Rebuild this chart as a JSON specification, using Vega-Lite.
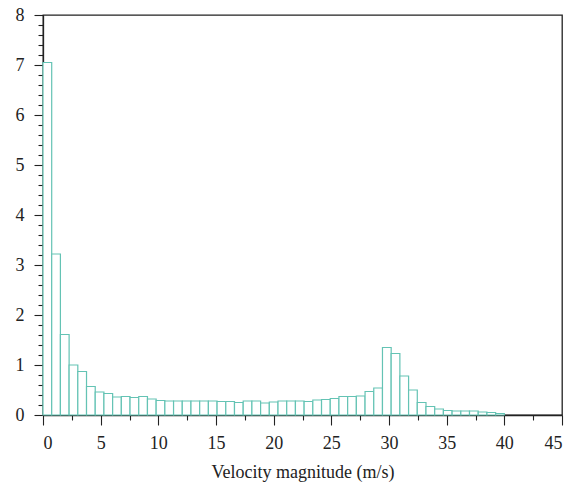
{
  "$schema": "https://vega.github.io/schema/vega-lite/v6.json",
  "width": 519,
  "height": 400,
  "autosize": {"type": "none"},
  "padding": {"left": 43, "top": 15, "right": 22, "bottom": 72},
  "background": "white",
  "config": {
    "font": "Liberation Serif",
    "view": {"stroke": "#222", "strokeWidth": 1.3},
    "axis": {
      "grid": false,
      "domainColor": "#222",
      "domainWidth": 1.3,
      "tickColor": "#222",
      "tickWidth": 1.1,
      "labelFont": "Liberation Serif",
      "labelFontSize": 18,
      "labelColor": "#222",
      "titleFont": "Liberation Serif",
      "titleFontSize": 18,
      "titleFontWeight": "normal",
      "titleColor": "#222",
      "labelOverlap": false
    }
  },
  "data": {
    "values": [
      {"lo": 0.0, "hi": 0.7547, "density": 7.05},
      {"lo": 0.7547, "hi": 1.5094, "density": 3.22},
      {"lo": 1.5094, "hi": 2.2642, "density": 1.61},
      {"lo": 2.2642, "hi": 3.0189, "density": 1.0},
      {"lo": 3.0189, "hi": 3.7736, "density": 0.87},
      {"lo": 3.7736, "hi": 4.5283, "density": 0.57},
      {"lo": 4.5283, "hi": 5.283, "density": 0.46},
      {"lo": 5.283, "hi": 6.0377, "density": 0.43},
      {"lo": 6.0377, "hi": 6.7925, "density": 0.36},
      {"lo": 6.7925, "hi": 7.5472, "density": 0.37},
      {"lo": 7.5472, "hi": 8.3019, "density": 0.35},
      {"lo": 8.3019, "hi": 9.0566, "density": 0.37},
      {"lo": 9.0566, "hi": 9.8113, "density": 0.32},
      {"lo": 9.8113, "hi": 10.566, "density": 0.29},
      {"lo": 10.566, "hi": 11.3208, "density": 0.28},
      {"lo": 11.3208, "hi": 12.0755, "density": 0.28},
      {"lo": 12.0755, "hi": 12.8302, "density": 0.28},
      {"lo": 12.8302, "hi": 13.5849, "density": 0.28},
      {"lo": 13.5849, "hi": 14.3396, "density": 0.28},
      {"lo": 14.3396, "hi": 15.0943, "density": 0.28},
      {"lo": 15.0943, "hi": 15.8491, "density": 0.27},
      {"lo": 15.8491, "hi": 16.6038, "density": 0.27},
      {"lo": 16.6038, "hi": 17.3585, "density": 0.25},
      {"lo": 17.3585, "hi": 18.1132, "density": 0.28},
      {"lo": 18.1132, "hi": 18.8679, "density": 0.28},
      {"lo": 18.8679, "hi": 19.6226, "density": 0.24},
      {"lo": 19.6226, "hi": 20.3774, "density": 0.26},
      {"lo": 20.3774, "hi": 21.1321, "density": 0.28},
      {"lo": 21.1321, "hi": 21.8868, "density": 0.28},
      {"lo": 21.8868, "hi": 22.6415, "density": 0.28},
      {"lo": 22.6415, "hi": 23.3962, "density": 0.27},
      {"lo": 23.3962, "hi": 24.1509, "density": 0.3},
      {"lo": 24.1509, "hi": 24.9057, "density": 0.31},
      {"lo": 24.9057, "hi": 25.6604, "density": 0.33},
      {"lo": 25.6604, "hi": 26.4151, "density": 0.37},
      {"lo": 26.4151, "hi": 27.1698, "density": 0.37},
      {"lo": 27.1698, "hi": 27.9245, "density": 0.38},
      {"lo": 27.9245, "hi": 28.6792, "density": 0.47},
      {"lo": 28.6792, "hi": 29.434, "density": 0.54},
      {"lo": 29.434, "hi": 30.1887, "density": 1.35},
      {"lo": 30.1887, "hi": 30.9434, "density": 1.23},
      {"lo": 30.9434, "hi": 31.6981, "density": 0.78},
      {"lo": 31.6981, "hi": 32.4528, "density": 0.5},
      {"lo": 32.4528, "hi": 33.2075, "density": 0.25},
      {"lo": 33.2075, "hi": 33.9623, "density": 0.17},
      {"lo": 33.9623, "hi": 34.717, "density": 0.12},
      {"lo": 34.717, "hi": 35.4717, "density": 0.09},
      {"lo": 35.4717, "hi": 36.2264, "density": 0.08},
      {"lo": 36.2264, "hi": 36.9811, "density": 0.08},
      {"lo": 36.9811, "hi": 37.7358, "density": 0.08},
      {"lo": 37.7358, "hi": 38.4906, "density": 0.06},
      {"lo": 38.4906, "hi": 39.2453, "density": 0.05},
      {"lo": 39.2453, "hi": 40.0, "density": 0.03}
    ]
  },
  "mark": {"type": "rect", "fill": "white", "stroke": "#64c3b4", "strokeWidth": 1.2},
  "encoding": {
    "x": {
      "field": "lo",
      "type": "quantitative",
      "scale": {"domain": [0, 45], "nice": false, "zero": false},
      "axis": {
        "title": "Velocity magnitude (m/s)",
        "labelFont": "Liberation Serif",
        "titleFont": "Liberation Serif",
        "values": [0, 2.5, 5, 7.5, 10, 12.5, 15, 17.5, 20, 22.5, 25, 27.5, 30, 32.5, 35, 37.5, 40, 42.5, 45],
        "labelExpr": "datum.value % 5 === 0 ? format(datum.value, 'd') : ''",
        "tickSize": {"condition": {"test": "datum.value % 5 === 0", "value": 10}, "value": 5},
        "labelPadding": 9,
        "titlePadding": 11
      }
    },
    "x2": {"field": "hi"},
    "y": {
      "field": "density",
      "type": "quantitative",
      "scale": {"domain": [0, 8], "nice": false},
      "axis": {
        "title": null,
        "labelFont": "Liberation Serif",
        "values": [0, 0.2, 0.4, 0.6, 0.8, 1, 1.2, 1.4, 1.6, 1.8, 2, 2.2, 2.4, 2.6, 2.8, 3, 3.2, 3.4, 3.6, 3.8, 4, 4.2, 4.4, 4.6, 4.8, 5, 5.2, 5.4, 5.6, 5.8, 6, 6.2, 6.4, 6.6, 6.8, 7, 7.2, 7.4, 7.6, 7.8, 8],
        "labelExpr": "datum.value % 1 === 0 ? format(datum.value, 'd') : ''",
        "tickSize": {"condition": {"test": "datum.value % 1 === 0", "value": 9}, "value": 5},
        "labelPadding": 10
      }
    },
    "y2": {"datum": 0}
  }
}
